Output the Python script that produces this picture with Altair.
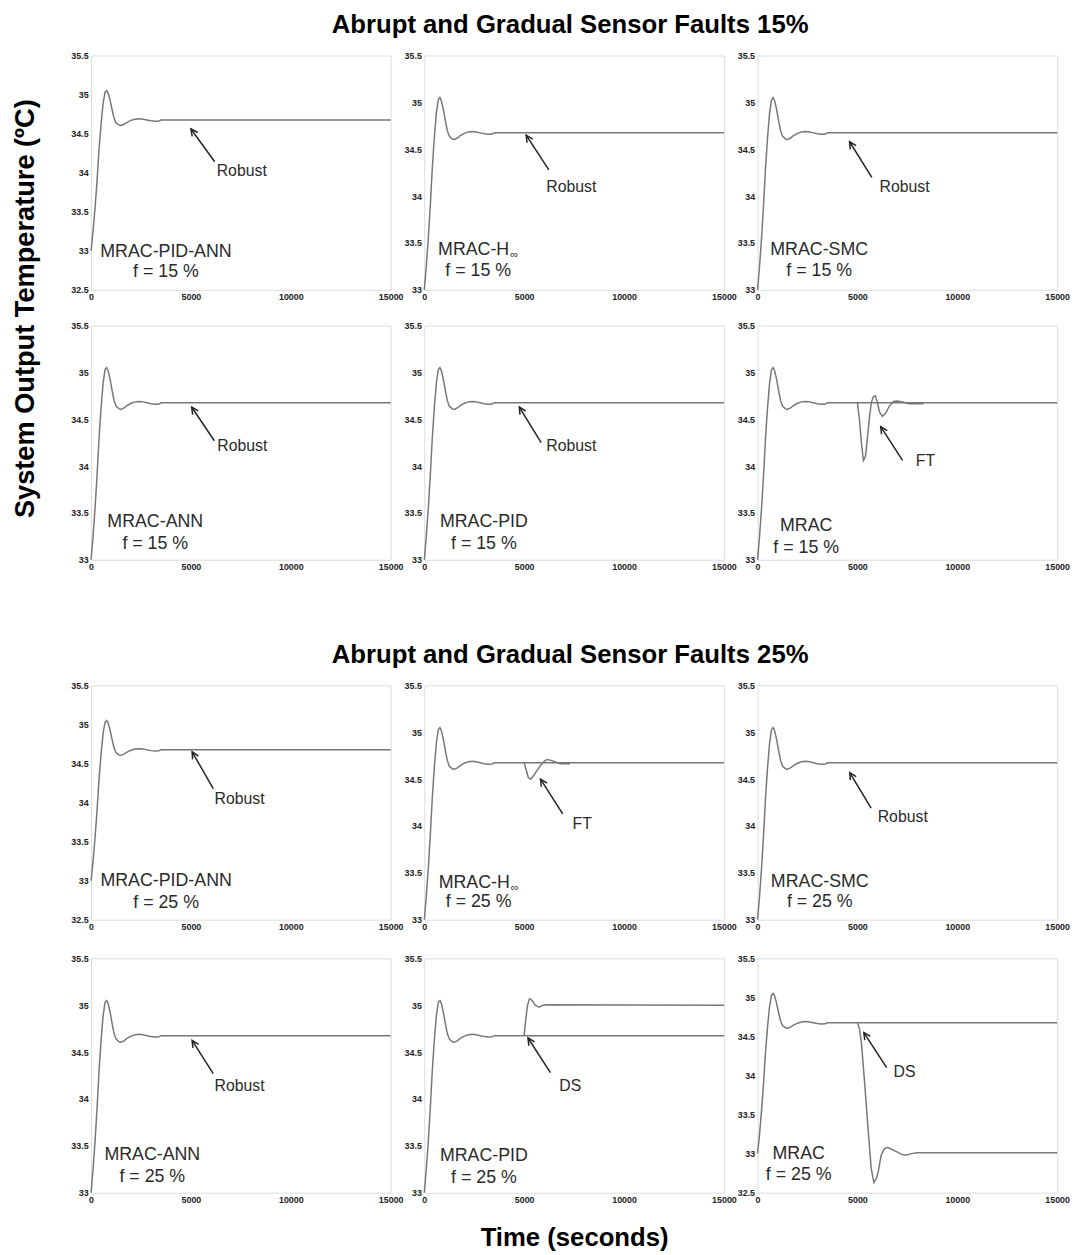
import math
import altair as alt
import pandas as pd

# ---------------- data ----------------
TITLE_15 = "Abrupt and Gradual Sensor Faults 15%"
TITLE_25 = "Abrupt and Gradual Sensor Faults 25%"
Y_TITLE = "System Output Temperature (ºC)"
X_TITLE = "Time (seconds)"

X_TICKS = [0, 5000, 10000, 15000]
Y_TICKS_ALL = [32.5, 33, 33.5, 34, 34.5, 35, 35.5]

# nominal closed-loop response (same in every panel)
T_NOM = [0, 100, 200, 300, 400, 500, 600, 700, 780, 850, 950, 1050, 1150, 1250,
         1400, 1500, 1650, 1800, 2000, 2200, 2400, 2600, 2800, 3000, 3200, 3400,
         3500, 15000]
Y_NOM = [33.0, 33.25, 33.55, 33.9, 34.3, 34.62, 34.88, 35.03, 35.05, 35.02, 34.93,
         34.81, 34.7, 34.64, 34.61, 34.605, 34.62, 34.645, 34.67, 34.685, 34.69,
         34.685, 34.675, 34.665, 34.66, 34.662, 34.675, 34.675]

# MRAC, f = 15 % : fault-tolerant transient
T_FT15_MRAC = [5000, 5100, 5200, 5300, 5400, 5500, 5600, 5700, 5800, 5900, 6000,
               6100, 6250, 6400, 6600, 6800, 7000, 7300, 7600, 8300]
Y_FT15_MRAC = [34.675, 34.5, 34.25, 34.06, 34.1, 34.3, 34.52, 34.68, 34.74, 34.75,
               34.68, 34.58, 34.53, 34.56, 34.64, 34.69, 34.695, 34.68, 34.665, 34.665]

# MRAC-Hinf, f = 25 % : fault-tolerant transient
T_FT25_HINF = [5000, 5100, 5200, 5320, 5450, 5600, 5800, 6000, 6150, 6350, 6600, 6800, 7300]
Y_FT25_HINF = [34.675, 34.6, 34.52, 34.5, 34.53, 34.58, 34.64, 34.69, 34.71, 34.7,
               34.68, 34.665, 34.665]

# MRAC-PID, f = 25 % : drift to new steady state
T_DS25_PID = [5000, 5080, 5170, 5270, 5400, 5550, 5750, 5950, 6100, 15000]
Y_DS25_PID = [34.68, 34.85, 35.0, 35.07, 35.05, 35.0, 34.98, 35.0, 35.005, 35.0]

# MRAC, f = 25 % : drift to new steady state
T_DS25_MRAC = [5000, 5100, 5200, 5360, 5530, 5690, 5825, 5950, 6050, 6190, 6350,
               6520, 6750, 7010, 7200, 7430, 7700, 8000, 15000]
Y_DS25_MRAC = [34.68, 34.6, 34.42, 33.91, 33.33, 32.81, 32.63, 32.68, 32.78, 32.98,
               33.06, 33.08, 33.05, 33.02, 32.99, 32.98, 33.0, 33.01, 33.01]

FAULTS = {
    "FT15_MRAC": (T_FT15_MRAC, Y_FT15_MRAC),
    "FT25_HINF": (T_FT25_HINF, Y_FT25_HINF),
    "DS25_PID": (T_DS25_PID, Y_DS25_PID),
    "DS25_MRAC": (T_DS25_MRAC, Y_DS25_MRAC),
}

# panel annotations (in data units)
PANELS = [
    # row 1 (15 %)
    dict(name="MRAC-PID-ANN", f="f = 15 %", ymin=32.5, fault=None, status="Robust",
         tip=(5000, 34.56), tail=(6190, 34.14), st=(6290, 34.02), nm=(3750, 32.99), fl=(3750, 32.73)),
    dict(name="MRAC-H", f="f = 15 %", ymin=33.0, fault=None, status="Robust",
         tip=(5100, 34.65), tail=(6236, 34.28), st=(6107, 34.10), nm=(4250, 33.42), fl=(2700, 33.20)),
    dict(name="MRAC-SMC", f="f = 15 %", ymin=33.0, fault=None, status="Robust",
         tip=(4607, 34.58), tail=(5721, 34.20), st=(6107, 34.10), nm=(3086, 33.42), fl=(3086, 33.20)),
    # row 2 (15 %)
    dict(name="MRAC-ANN", f="f = 15 %", ymin=33.0, fault=None, status="Robust",
         tip=(5036, 34.63), tail=(6171, 34.27), st=(6321, 34.21), nm=(3214, 33.40), fl=(3214, 33.17)),
    dict(name="MRAC-PID", f="f = 15 %", ymin=33.0, fault=None, status="Robust",
         tip=(4757, 34.63), tail=(5850, 34.25), st=(6107, 34.21), nm=(2983, 33.40), fl=(2983, 33.17)),
    dict(name="MRAC", f="f = 15 %", ymin=33.0, fault="FT15_MRAC", status="FT",
         tip=(6166, 34.42), tail=(7260, 34.06), st=(7923, 34.05), nm=(2436, 33.36), fl=(2436, 33.13)),
    # row 3 (25 %)
    dict(name="MRAC-PID-ANN", f="f = 25 %", ymin=32.5, fault=None, status="Robust",
         tip=(5060, 34.65), tail=(6115, 34.18), st=(6181, 34.05), nm=(3758, 32.995), fl=(3758, 32.72)),
    dict(name="MRAC-H", f="f = 25 %", ymin=33.0, fault="FT25_HINF", status="FT",
         tip=(5819, 34.50), tail=(6929, 34.13), st=(7418, 34.025), nm=(4280, 33.39), fl=(2720, 33.19)),
    dict(name="MRAC-SMC", f="f = 25 %", ymin=33.0, fault=None, status="Robust",
         tip=(4615, 34.57), tail=(5687, 34.19), st=(6016, 34.095), nm=(3115, 33.40), fl=(3115, 33.19)),
    # row 4 (25 %)
    dict(name="MRAC-ANN", f="f = 25 %", ymin=33.0, fault=None, status="Robust",
         tip=(5060, 34.625), tail=(6115, 34.27), st=(6181, 34.14), nm=(3066, 33.40), fl=(3066, 33.17)),
    dict(name="MRAC-PID", f="f = 25 %", ymin=33.0, fault="DS25_PID", status="DS",
         tip=(5192, 34.65), tail=(6313, 34.28), st=(6758, 34.14), nm=(2984, 33.395), fl=(2984, 33.155)),
    dict(name="MRAC", f="f = 25 %", ymin=32.5, fault="DS25_MRAC", status="DS",
         tip=(5324, 34.55), tail=(6462, 34.10), st=(6808, 34.05), nm=(2060, 32.99), fl=(2060, 32.72)),
]

# ---------------- styling ----------------
FONT = "Liberation Sans"
W, H = 303, 237
LINE_COLOR = "#777777"
ARROW_COLOR = "#222222"
TEXT_COLOR = "#2a2a2a"
ARROW_HEAD = "M -0.5 1 L 0 0 L 0.5 1"


def make_panel(p, x_title=False):
    ymin = p["ymin"]
    xaxis_kw = dict(values=X_TICKS, format="d", labelFont=FONT, labelFontSize=9,
                    labelFontWeight="bold", labelColor="#222", ticks=False, domain=False,
                    grid=False, labelPadding=3, labelFlush=False, labelOverlap=False)
    if x_title:
        xaxis = alt.Axis(title=X_TITLE, titleFont=FONT, titleFontSize=26,
                         titleFontWeight="bold", titleColor="black", titlePadding=20, **xaxis_kw)
    else:
        xaxis = alt.Axis(title=None, **xaxis_kw)
    yaxis = alt.Axis(title=None, values=[v for v in Y_TICKS_ALL if v >= ymin], format="~g",
                     labelFont=FONT, labelFontSize=9, labelFontWeight="bold", labelColor="#222",
                     ticks=False, domain=False, grid=False, labelPadding=3, labelOverlap=False)
    X = alt.X("t:Q", scale=alt.Scale(domain=[0, 15000], nice=False, zero=False), axis=xaxis)
    Y = alt.Y("y:Q", scale=alt.Scale(domain=[ymin, 35.5], nice=False, zero=False), axis=yaxis)

    layers = []
    nom = pd.DataFrame({"t": T_NOM, "y": Y_NOM})
    layers.append(alt.Chart(nom).mark_line(color=LINE_COLOR, strokeWidth=1.5).encode(x=X, y=Y))
    if p["fault"]:
        ft, fy = FAULTS[p["fault"]]
        fdf = pd.DataFrame({"t": ft, "y": fy})
        layers.append(alt.Chart(fdf).mark_line(color=LINE_COLOR, strokeWidth=1.5).encode(x=X, y=Y))

    # arrow shaft
    (tt, ty), (lt, ly) = p["tip"], p["tail"]
    adf = pd.DataFrame({"t": [lt], "y": [ly], "t2": [tt], "y2": [ty]})
    layers.append(alt.Chart(adf).mark_rule(color=ARROW_COLOR, strokeWidth=1.5).encode(
        x=X, y=Y, x2="t2:Q", y2="y2:Q"))
    # arrow head, rotated along the shaft (pixel space)
    dx = (tt - lt) / 15000 * W
    dy = -(ty - ly) / (35.5 - ymin) * H
    ang = math.degrees(math.atan2(dx, -dy)) % 360
    hdf = pd.DataFrame({"t": [tt], "y": [ty]})
    layers.append(alt.Chart(hdf).mark_point(shape=ARROW_HEAD, filled=False, size=190,
                                            strokeWidth=1.5, color=ARROW_COLOR, opacity=1,
                                            angle=ang).encode(x=X, y=Y))
    # status label
    sdf = pd.DataFrame({"t": [p["st"][0]], "y": [p["st"][1]], "label": [p["status"]]})
    layers.append(alt.Chart(sdf).mark_text(align="left", baseline="middle", font=FONT,
                                           fontSize=16, color=TEXT_COLOR).encode(
        x=X, y=Y, text="label:N"))
    # controller name
    ndf = pd.DataFrame({"t": [p["nm"][0]], "y": [p["nm"][1]], "label": [p["name"]]})
    if p["name"] == "MRAC-H":
        layers.append(alt.Chart(ndf).mark_text(align="right", baseline="middle", font=FONT,
                                               fontSize=18, color=TEXT_COLOR).encode(
            x=X, y=Y, text="label:N"))
        idf = pd.DataFrame({"t": [p["nm"][0]], "y": [p["nm"][1]], "label": ["∞"]})
        layers.append(alt.Chart(idf).mark_text(align="left", baseline="middle", font=FONT,
                                               fontSize=11, dy=5, dx=1, color=TEXT_COLOR).encode(
            x=X, y=Y, text="label:N"))
    else:
        layers.append(alt.Chart(ndf).mark_text(align="center", baseline="middle", font=FONT,
                                               fontSize=18, color=TEXT_COLOR).encode(
            x=X, y=Y, text="label:N"))
    fdf2 = pd.DataFrame({"t": [p["fl"][0]], "y": [p["fl"][1]], "label": [p["f"]]})
    layers.append(alt.Chart(fdf2).mark_text(align="center", baseline="middle", font=FONT,
                                            fontSize=18, color=TEXT_COLOR).encode(
        x=X, y=Y, text="label:N"))
    return alt.layer(*layers).properties(width=W, height=H)


panels = [make_panel(p, x_title=(i == 10)) for i, p in enumerate(PANELS)]


def title(txt):
    return alt.TitleParams(txt, anchor="middle", font=FONT, fontSize=26, fontWeight="bold",
                           color="black", offset=13)


row1 = alt.hconcat(*panels[0:3], spacing=34, bounds="flush").properties(title=title(TITLE_15))
row2 = alt.hconcat(*panels[3:6], spacing=34, bounds="flush")
row3 = alt.hconcat(*panels[6:9], spacing=34, bounds="flush").properties(title=title(TITLE_25))
row4 = alt.hconcat(*panels[9:12], spacing=34, bounds="flush")

group15 = alt.vconcat(row1, row2, spacing=18)
group25 = alt.vconcat(row3, row4, spacing=21)
body = alt.vconcat(group15, group25, spacing=70)

ylab = alt.Chart(pd.DataFrame({"label": [Y_TITLE]})).mark_text(
    angle=270, align="center", baseline="middle", font=FONT, fontSize=27.5,
    fontWeight="bold", color="black").encode(
    text="label:N", x=alt.value(17), y=alt.value(256)).properties(
    width=34, height=600, view=alt.ViewBackground(stroke="transparent"))

chart = alt.hconcat(ylab, body, spacing=26).properties(
    padding={"top": -3, "left": 0, "right": 0, "bottom": 0}).configure_view(
    stroke="#858585", strokeWidth=1.2).configure(background="white")

chart.save("out.html", embed_options={"renderer": "svg", "actions": False})
